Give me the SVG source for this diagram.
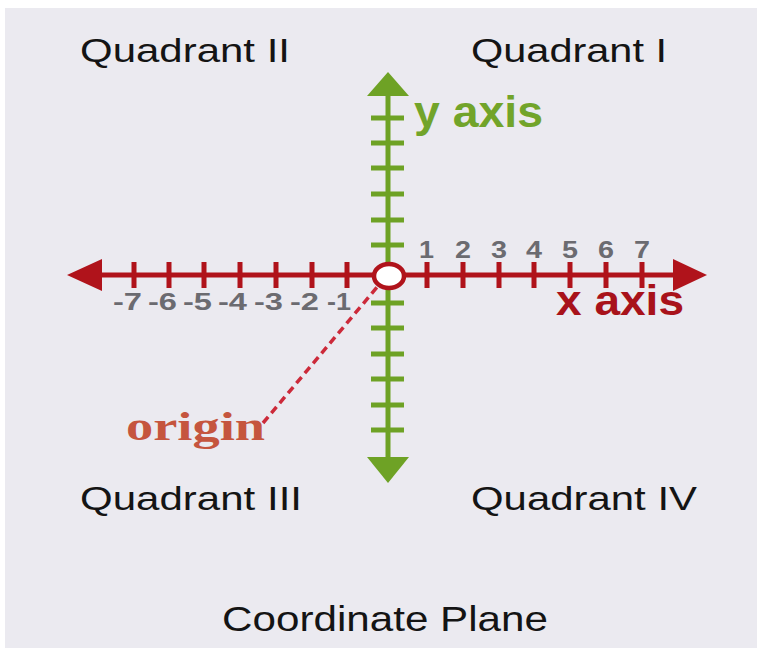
<svg xmlns="http://www.w3.org/2000/svg" width="762" height="648" viewBox="0 0 762 648">
<style>
.q{font-family:"Liberation Sans",Arial,sans-serif;fill:#141414;font-size:33px}
.num{font-family:"Liberation Sans",Arial,sans-serif;font-weight:bold;fill:#6b6b70;font-size:24px}
.xa{stroke:#b0131b;stroke-width:5;fill:none}
.ya{stroke:#6ea225;stroke-width:5;fill:none}
</style>
<rect x="0" y="0" width="762" height="648" fill="#ffffff"/>
<rect x="5" y="8" width="752" height="640" fill="#ebeaf0"/>
<g id="quadrants">
<text class="q" x="80" y="62" textLength="210" lengthAdjust="spacingAndGlyphs">Quadrant II</text>
<text class="q" x="471" y="62" textLength="196" lengthAdjust="spacingAndGlyphs">Quadrant I</text>
<text class="q" x="80" y="510" textLength="222" lengthAdjust="spacingAndGlyphs">Quadrant III</text>
<text class="q" x="471" y="510" textLength="226" lengthAdjust="spacingAndGlyphs">Quadrant IV</text>
</g>
<g id="x-axis">
<line class="xa" x1="95" y1="275" x2="680" y2="275"/>
<polygon points="67,275 102,259 102,291" fill="#b0131b"/>
<polygon points="707,275 673,259 673,291" fill="#b0131b"/>
<path class="xa" d="M134,262V288M169,262V288M204,262V288M240,262V288M276,262V288M312,262V288M347,262V288M427,262V288M463,262V288M499,262V288M534,262V288M570,262V288M606,262V288M642,262V288"/>
<text x="556" y="315" font-family="Liberation Sans,Arial,sans-serif" font-weight="bold" font-size="43" fill="#a8121a" textLength="128" lengthAdjust="spacingAndGlyphs">x axis</text>
</g>
<g id="x-labels">
<text class="num" x="419" y="258" textLength="15" lengthAdjust="spacingAndGlyphs">1</text>
<text class="num" x="455" y="258" textLength="16" lengthAdjust="spacingAndGlyphs">2</text>
<text class="num" x="491" y="258" textLength="16" lengthAdjust="spacingAndGlyphs">3</text>
<text class="num" x="526" y="258" textLength="16" lengthAdjust="spacingAndGlyphs">4</text>
<text class="num" x="562" y="258" textLength="16" lengthAdjust="spacingAndGlyphs">5</text>
<text class="num" x="598" y="258" textLength="16" lengthAdjust="spacingAndGlyphs">6</text>
<text class="num" x="634" y="258" textLength="16" lengthAdjust="spacingAndGlyphs">7</text>
<text class="num" x="113" y="310" textLength="29" lengthAdjust="spacingAndGlyphs">-7</text>
<text class="num" x="148" y="310" textLength="29" lengthAdjust="spacingAndGlyphs">-6</text>
<text class="num" x="183" y="310" textLength="29" lengthAdjust="spacingAndGlyphs">-5</text>
<text class="num" x="218" y="310" textLength="29" lengthAdjust="spacingAndGlyphs">-4</text>
<text class="num" x="254" y="310" textLength="29" lengthAdjust="spacingAndGlyphs">-3</text>
<text class="num" x="290" y="310" textLength="29" lengthAdjust="spacingAndGlyphs">-2</text>
<text class="num" x="327" y="310" textLength="24" lengthAdjust="spacingAndGlyphs">-1</text>
</g>
<g id="y-axis">
<line class="ya" x1="388" y1="90" x2="388" y2="460"/>
<polygon points="388,72 367,96 409,96" fill="#6ea225"/>
<polygon points="388,483 367,457 409,457" fill="#6ea225"/>
<path class="ya" d="M371,118H404M371,143H404M371,168H404M371,194H404M371,220H404M371,245H404M371,303H404M371,328H404M371,354H404M371,379H404M371,405H404M371,430H404"/>
<text x="414" y="127" font-family="Liberation Sans,Arial,sans-serif" font-weight="bold" font-size="45" fill="#72a42a" textLength="129" lengthAdjust="spacingAndGlyphs">y axis</text>
</g>
<g id="connectors">
<line x1="263" y1="423" x2="378" y2="286" stroke="#cc2a3a" stroke-width="3.5" stroke-dasharray="8,5"/>
</g>
<g id="origin">
<ellipse cx="389" cy="276" rx="15" ry="12" fill="#ffffff" stroke="#b0131b" stroke-width="4.5"/>
<text x="126" y="440" font-family="Liberation Serif,Times New Roman,serif" font-weight="bold" font-size="39" fill="#c5553e" textLength="139" lengthAdjust="spacingAndGlyphs">origin</text>
</g>
<g id="title">
<text class="q" x="222" y="631" textLength="326" lengthAdjust="spacingAndGlyphs" style="font-size:35px">Coordinate Plane</text>
</g>
</svg>
